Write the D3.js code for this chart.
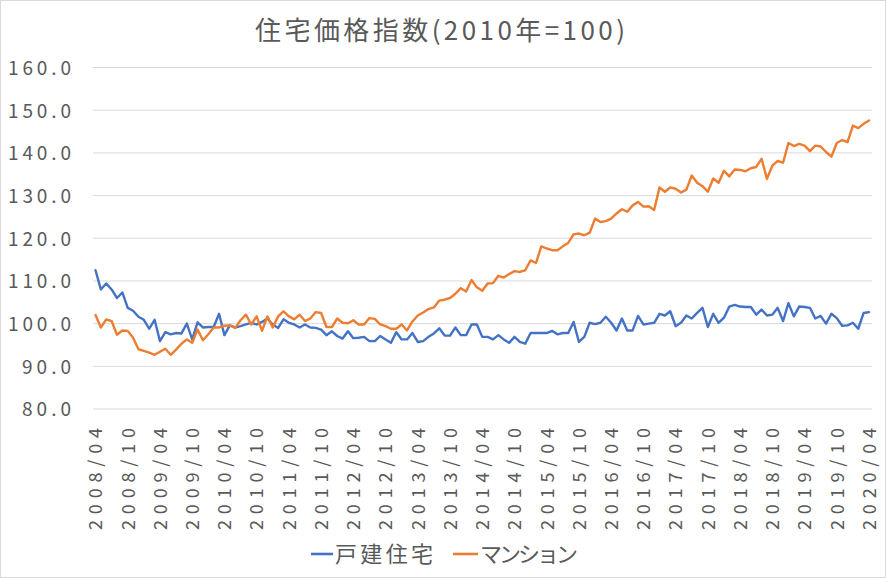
<!DOCTYPE html>
<html><head><meta charset="utf-8">
<script src="https://cdn.jsdelivr.net/npm/d3@7"></script>
<style>body{margin:0;background:#fff}svg{display:block}</style>
</head><body>
<script>
const titleText = "住宅価格指数(2010年=100)";
const seriesNames = ["戸建住宅", "マンション"];
const seriesColors = ["#4472C4", "#ED7D31"];
const startYear = 2008, startMonth = 4, monthCount = 145;
const tickLabels = ["2008/04","2008/10","2009/04","2009/10","2010/04","2010/10","2011/04","2011/10","2012/04","2012/10","2013/04","2013/10","2014/04","2014/10","2015/04","2015/10","2016/04","2016/10","2017/04","2017/10","2018/04","2018/10","2019/04","2019/10","2020/04"];
const yTicks = [80,90,100,110,120,130,140,150,160];

const detached = [
112.5,108.0,109.4,108.0,106.0,107.3,103.7,103.0,101.6,100.9,98.8,100.9,95.9,98.0,97.5,97.8,97.7,100.0,96.3,100.3,99.1,99.2,99.2,102.3,
97.3,99.6,99.1,99.4,99.8,100.2,99.8,100.4,101.2,99.8,99.0,101.0,100.2,99.8,99.1,99.8,99.1,99.0,98.6,97.3,98.2,97.1,96.5,98.2,
96.6,96.7,96.9,95.9,95.9,97.1,96.3,95.5,98.0,96.3,96.3,97.8,95.7,95.9,96.9,97.7,98.9,97.2,97.2,99.1,97.3,97.3,99.8,99.8,
96.9,96.9,96.3,97.3,96.3,95.5,96.9,95.7,95.3,97.8,97.8,97.8,97.8,98.3,97.5,97.8,97.8,100.4,95.7,96.9,100.2,99.9,100.2,101.6,
100.2,98.4,101.2,98.4,98.4,101.8,99.8,100.0,100.2,102.3,101.9,102.9,99.4,100.2,101.9,101.2,102.5,103.7,99.2,102.3,100.2,101.4,104.0,104.4,
104.0,103.9,103.9,102.1,103.3,101.9,102.1,103.7,100.6,104.8,101.7,104.0,103.9,103.7,101.2,101.8,100.0,102.3,101.3,99.5,99.6,100.2,98.8,102.5,102.7];

const condo = [
102.0,99.1,101.0,100.6,97.4,98.4,98.3,96.7,94.0,93.6,93.2,92.7,93.4,94.1,92.7,93.9,95.3,96.3,95.5,98.6,96.1,97.5,99.1,99.1,
99.5,99.6,99.0,100.8,102.1,99.8,101.7,98.3,101.7,99.1,101.7,102.9,101.7,101.0,102.1,100.6,101.2,102.7,102.5,99.2,99.2,101.2,100.2,100.1,
100.8,99.8,99.8,101.3,101.1,99.8,99.4,98.8,98.8,99.8,98.4,100.5,101.9,102.6,103.4,103.8,105.4,105.6,106.0,107.0,108.3,107.5,110.2,108.5,
107.7,109.4,109.5,111.2,110.8,111.6,112.3,112.1,112.5,114.8,114.2,118.1,117.6,117.2,117.2,118.1,118.9,120.9,121.1,120.7,121.3,124.6,123.8,124.0,
124.6,125.8,126.8,126.2,127.7,128.5,127.4,127.5,126.6,131.9,130.9,131.9,131.6,130.7,131.4,134.7,133.0,132.2,130.9,134.0,133.0,135.8,134.5,136.1,
136.0,135.7,136.4,136.7,138.6,133.9,137.0,138.1,137.7,142.3,141.6,142.1,141.7,140.4,141.7,141.5,140.2,139.1,142.3,143.0,142.5,146.4,145.8,146.8,147.6];

const months = d3.range(monthCount).map(i => {
  const t = (startMonth - 1) + i;
  const y = startYear + Math.floor(t / 12), m = t % 12 + 1;
  return y + "/" + String(m).padStart(2, "0");
});

const W = 886, H = 578;
const FONT = "'Noto Sans CJK JP', 'Noto Sans', sans-serif";
const TXT = "#595959";
const svg = d3.select("body").append("svg").attr("width", W).attr("height", H);

svg.append("rect").attr("x",0.5).attr("y",0.5).attr("width",W-1).attr("height",H-1)
  .attr("fill","#fff").attr("stroke","#d9d9d9");

const x = d3.scalePoint().domain(months).range([95.5, 869]);
const y = d3.scaleLinear().domain([80,160]).range([409, 67.5]);

// gridlines
svg.append("g").selectAll("line").data(yTicks).join("line")
  .attr("x1", 93).attr("x2", 872)
  .attr("y1", d => y(d)).attr("y2", d => y(d))
  .attr("stroke", "#d9d9d9").attr("stroke-width", 1);

// y axis labels
const yAxis = d3.axisLeft(y).tickValues(yTicks).tickFormat(d3.format(".1f")).tickSize(0).tickPadding(0);
const gy = svg.append("g").attr("transform", "translate(71,0)").call(yAxis);
gy.select(".domain").remove();
gy.selectAll("text")
  .attr("fill", TXT).attr("font-family", FONT).attr("font-size", 19)
  .attr("dy", "0.36em")
  .attr("textLength", d => { const s = d3.format(".1f")(d); return (s.length - 1) * 14 + 7; })
  .attr("lengthAdjust", "spacing");

// x axis labels
const xAxis = d3.axisBottom(x).tickValues(tickLabels).tickSize(0).tickPadding(0);
const gx = svg.append("g").attr("transform", "translate(0,428)").call(xAxis);
gx.select(".domain").remove();
gx.selectAll("text")
  .attr("fill", TXT).attr("font-family", FONT).attr("font-size", 18)
  .attr("transform", "rotate(-90)")
  .attr("x", 0).attr("y", 0).attr("dy", "0.35em")
  .attr("text-anchor", "end")
  .attr("textLength", 102).attr("lengthAdjust", "spacing");

// lines
const line = d3.line().x((d, i) => x(months[i])).y(d => y(d));
[detached, condo].forEach((s, k) => {
  svg.append("path").datum(s).attr("d", line)
    .attr("fill", "none").attr("stroke", seriesColors[k])
    .attr("stroke-width", 2.4).attr("stroke-linejoin", "round").attr("stroke-linecap", "round");
});

// title
svg.append("text").attr("x", 255).attr("y", 40)
  .attr("fill", TXT).attr("font-family", FONT).attr("font-size", 26)
  .attr("textLength", 370).attr("lengthAdjust", "spacing")
  .text(titleText);

// legend
const legend = [
  {name: seriesNames[0], color: seriesColors[0], x1: 311, x2: 333, tx: 335, tl: 98},
  {name: seriesNames[1], color: seriesColors[1], x1: 453, x2: 478, tx: 480, tl: 98}
];
const lg = svg.append("g");
legend.forEach(l => {
  lg.append("line").attr("x1", l.x1).attr("x2", l.x2).attr("y1", 554).attr("y2", 554)
    .attr("stroke", l.color).attr("stroke-width", 2.6);
  lg.append("text").attr("x", l.tx).attr("y", 554).attr("dy", "0.36em")
    .attr("fill", TXT).attr("font-family", FONT).attr("font-size", 22)
    .attr("textLength", l.tl).attr("lengthAdjust", "spacing")
    .text(l.name);
});
</script>
</body></html>
